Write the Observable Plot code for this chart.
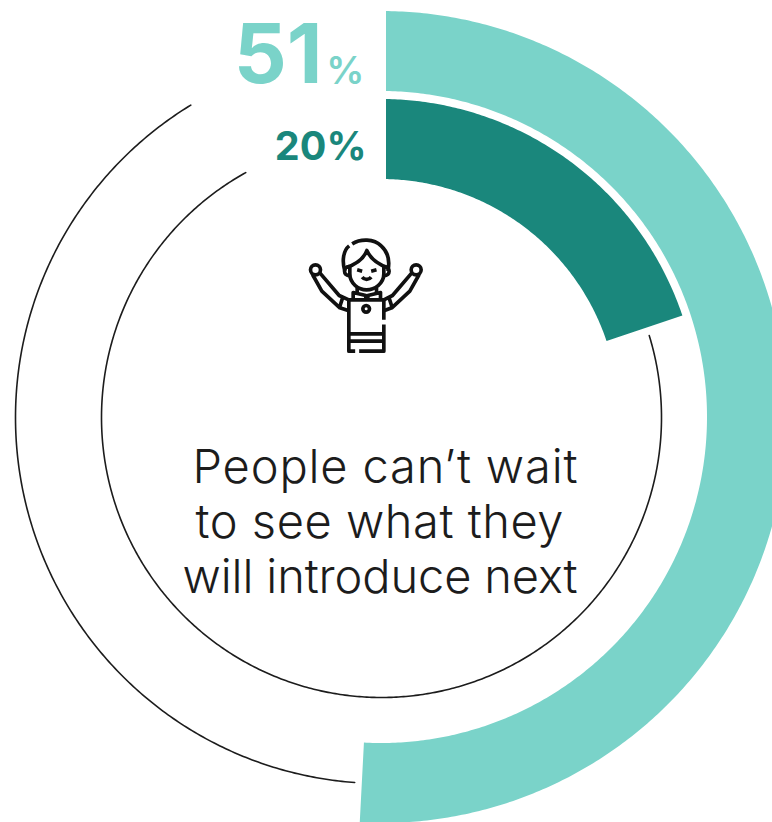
<!DOCTYPE html>
<html><head><meta charset="utf-8">
<style>html,body{margin:0;padding:0;background:#fff;overflow:hidden}svg{display:block;overflow:hidden}</style>
<script src="https://cdn.jsdelivr.net/npm/d3@7"></script>
<script src="https://cdn.jsdelivr.net/npm/@observablehq/plot@0.6"></script>
</head><body><div id="chart"></div>
<script>
// Data
const series = ["Can't wait (all)", "Can't wait (strong)"];
const shares = [51, 20];
const valueLabels = ["51", "20"];
const captionLines = ["People can’t wait", "to see what they", "will introduce next"];

// Styles and geometry (separate from the data)
const bandColors = ["#7ad3c9", "#1a877c"];
const inkColor = "#1c1c1c";
const bandRadii = [[326, 406], [238, 318]];
const trackRadii = [366, 280];
const trackEnds = [[184.2, 328.6], [73, 331]];
const startPad = 5;           // px gap between the vertical centre line and band start
const endPad = 0.6;           // degrees trimmed from the end of each band
const cx = 381, cy = 417;     // circle centre in page pixels
const W = 772, H = 822;
const px = v => v - cx, py = v => cy - v;
const captionRight = [577, 563, 577];
const captionBase = [482, 537, 592];
const captionWidths = [385, 368, 395];

const angles = (a0, a1, step = 0.5) => {
  const n = Math.ceil(Math.abs(a1 - a0) / step);
  return d3.range(n + 1).map(i => a0 + (a1 - a0) * i / n);
};
const polar = (r, deg) => [r * Math.sin(deg * Math.PI / 180), r * Math.cos(deg * Math.PI / 180)];

const bandMarks = shares.map((s, i) => {
  const [r0, r1] = bandRadii[i];
  const end = s * 3.6 - endPad;
  const rows = angles(0, end).map(a => {
    const adj = r => {
      const [x, y] = polar(r, a);
      // the start edge is a straight vertical cut, just right of the centre line
      return a < 90 ? [Math.max(x, startPad), y] : [x, y];
    };
    const [x1, y1] = adj(r0), [x2, y2] = adj(r1);
    return {x1, y1, x2, y2};
  });
  return Plot.area(rows, {x1: "x1", y1: "y1", x2: "x2", y2: "y2", fill: bandColors[i], clip: true});
});

const trackMarks = trackRadii.map((r, i) =>
  Plot.line(angles(...trackEnds[i]).map(a => polar(r, a)), {
    x: d => d[0], y: d => d[1], stroke: inkColor, strokeWidth: 1.6
  })
);

const iconSvg = `<svg xmlns="http://www.w3.org/2000/svg" viewBox="0 0 390 390" width="390" height="390">
<g fill="none" stroke="#111" stroke-width="11" stroke-linecap="butt" stroke-linejoin="round">
<path d="M155 40C180 24 220 24 242 46C264 66 268 95 262 122"/>
<path d="M146 46C128 60 124 92 133 122"/>
<path d="M135 112C165 102 190 85 199 60C210 85 235 102 262 112"/>
<path d="M148 105V130C148 160 175 178 198 178C222 178 250 160 250 130V105"/>
<path d="M146 108C128 110 126 134 149 136M252 108C270 110 272 134 249 136"/>
<path d="M170 118L185 122M212 122L228 118M185 140C192 149 205 149 212 140"/>
<path d="M170 172V186M228 172V186"/>
<path d="M158 205V186L196 195V205M202 205V195L240 186V205"/>
<path d="M145 208H250V268M250 282V362H176M164 362H145V208"/>
<path d="M145 310H250M145 332H250"/>
<circle cx="197" cy="235" r="10"/>
<circle cx="45" cy="118" r="15"/><circle cx="347" cy="118" r="15"/>
<path d="M36 132L64 182L118 232L145 241M58 127L116 195L145 208M128 197L116 234"/>
<path d="M356 132L328 182L274 232L250 241M334 127L276 195L250 208M264 197L276 234"/>
</g></svg>`;
const iconSrc = "data:image/svg+xml;utf8," + encodeURIComponent(iconSvg);

const numFont = "Inter, 'Open Sans', sans-serif";
const captionFont = "Inter, Lato, sans-serif";

const chart = Plot.plot({
  width: W, height: H, margin: 0,
  x: {domain: [px(0), px(W)], range: [0, W], axis: null},
  y: {domain: [py(0), py(H)], range: [0, H], axis: null},
  marks: [
    ...trackMarks,
    ...bandMarks,
    Plot.image([0], {x: px(365), y: py(295), width: 130, height: 130, src: () => iconSrc}),
    Plot.text([valueLabels[0]], {x: px(322), y: py(82), text: d => d, textAnchor: "end", lineAnchor: "bottom",
      fontFamily: numFont, fontWeight: 700, fontSize: 83, fill: bandColors[0]}),
    Plot.text(["%"], {x: px(364), y: py(83), text: d => d, textAnchor: "end", lineAnchor: "bottom",
      fontFamily: numFont, fontWeight: 600, fontSize: 38, fill: bandColors[0]}),
    Plot.text([valueLabels[1] + "%"], {x: px(366), y: py(159), text: d => d, textAnchor: "end", lineAnchor: "bottom",
      fontFamily: numFont, fontWeight: 700, fontSize: 39.5, fill: bandColors[1]}),
    Plot.text(captionLines, {
      x: (d, i) => px(captionRight[i]), y: (d, i) => py(captionBase[i]), text: d => d, className: "caption",
      textAnchor: "end", lineAnchor: "bottom", fontFamily: captionFont, fontWeight: 300, fontSize: 47, fill: inkColor
    })
  ]
});
d3.select(chart).selectAll(".caption text").each(function (d, i) {
  this.setAttribute("textLength", captionWidths[i]);
  this.setAttribute("lengthAdjust", "spacing");
});
document.getElementById("chart").appendChild(chart);
</script></body></html>
